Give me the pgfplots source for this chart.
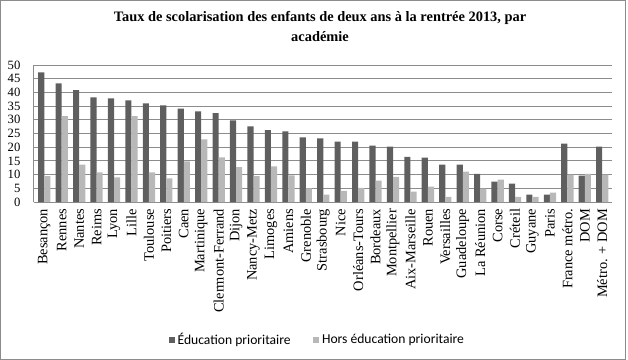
\documentclass[border=0pt]{standalone}
\usepackage{fontspec}
\setmainfont{Liberation Serif}
\newfontfamily\legfont{Carlito}
\usepackage{pgfplots}
\pgfplotsset{compat=1.18}
\definecolor{dk}{HTML}{5F5F5F}
\definecolor{lt}{HTML}{B8B8B8}
\definecolor{gr}{HTML}{8C8C8C}
\begin{document}
\begin{tikzpicture}
\begin{axis}[
  name=ax,
  at={(0,0)}, anchor=south west,
  scale only axis,
  width=433.5pt, height=102.75pt,
  ybar=0pt, bar width=4.6pt,
  ymin=0, ymax=50, ytick={0,5,...,50},
  xmin=-0.59, xmax=32.56,
  xtick={0,...,32},
  xticklabels={Besançon,Rennes,Nantes,Reims,Lyon,Lille,Toulouse,Poitiers,Caen,Martinique,Clermont-Ferrand,Dijon,Nancy-Metz,Limoges,Amiens,Grenoble,Strasbourg,Nice,Orléans-Tours,Bordeaux,Montpellier,Aix-Marseille,Rouen,Versailles,Guadeloupe,La Réunion,Corse,Créteil,Guyane,Paris,France métro.,DOM,Métro. + DOM},
  xticklabel style={rotate=90, anchor=east, inner sep=0pt, font=\fontsize{10.8}{10.8}\selectfont},
  xticklabel shift=5pt,
  yticklabel style={inner sep=0pt, xshift=-10pt, font=\fontsize{9.5}{9.5}\selectfont},
  /pgf/number format/assume math mode=true,
  major tick length=0pt,
  axis x line*=bottom, axis y line*=left,
  axis line style={gr, line width=0.75pt},
  ymajorgrids, grid style={gr, line width=0.75pt},
  legend style={at={(0.491,-1.007)}, anchor=center, draw=none, legend columns=2, inner sep=0pt, font=\legfont\fontsize{10.2}{10.2}\selectfont, /tikz/every even column/.append style={column sep=15pt}},
  area legend,
  legend image code/.code={\fill[#1] (0pt,-2.25pt) rectangle (4.5pt,2.25pt);},
  clip=false,
]
\addplot[fill=dk, draw=none] coordinates {
(0,47.3) (1,43.3) (2,40.8) (3,38.2) (4,37.8) (5,37.1) (6,36.0) (7,35.3) (8,34.1) (9,33.1)
(10,32.4) (11,29.8) (12,27.6) (13,26.2) (14,25.8) (15,23.6) (16,23.2) (17,22.0) (18,22.0) (19,20.6)
(20,20.2) (21,16.5) (22,16.2) (23,13.6) (24,13.6) (25,10.3) (26,7.4) (27,6.7) (28,2.7) (29,2.7)
(30,21.3) (31,9.6) (32,20.2)};
\addplot[fill=lt, draw=none] coordinates {
(0,9.4) (1,31.3) (2,13.6) (3,10.8) (4,9.0) (5,31.3) (6,10.8) (7,8.6) (8,14.8) (9,22.9)
(10,16.3) (11,12.7) (12,9.4) (13,13.0) (14,9.7) (15,5.0) (16,2.7) (17,4.1) (18,5.2) (19,7.8)
(20,9.2) (21,3.8) (22,5.6) (23,1.9) (24,11.1) (25,4.9) (26,8.2) (27,1.9) (28,1.9) (29,3.4)
(30,10.0) (31,10.3) (32,10.0)};
\legend{Éducation prioritaire, Hors éducation prioritaire}
\end{axis}
\node[font=\bfseries\fontsize{10.8}{15.5}\selectfont, align=center] at (214.5pt,131.5pt) {Taux de scolarisation des enfants de deux ans à la rentrée 2013, par\\académie};
\draw[gr, line width=0.75pt] (-24.75pt,-117.75pt) rectangle (443.25pt,150.75pt);
\pgfresetboundingbox
\path[use as bounding box] (-25.5pt,-118.5pt) rectangle (445.5pt,151.5pt);
\end{tikzpicture}
\end{document}
